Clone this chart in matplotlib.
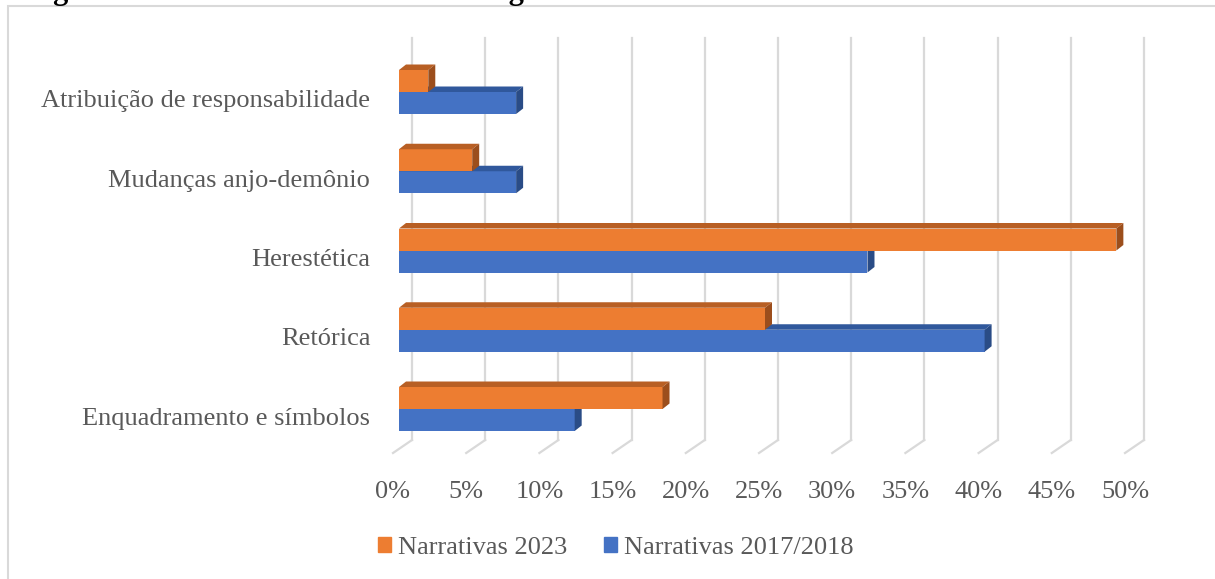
import numpy as np
import matplotlib.pyplot as plt
from matplotlib.patches import Polygon, Rectangle, Patch

# data (percent), bottom to top
categorias = ["Enquadramento e símbolos", "Retórica", "Herestética",
              "Mudanças anjo-demônio", "Atribuição de responsabilidade"]
narr_2023 = [18, 25, 49, 5, 2]
narr_2017 = [12, 40, 32, 8, 8]
ticks = [0, 5, 10, 15, 20, 25, 30, 35, 40, 45, 50]
tick_labels = [f"{t}%" for t in ticks]

laranja, laranja_topo, laranja_lado = "#ED7D31", "#B85F24", "#9C4E1C"
azul, azul_topo, azul_lado = "#4472C4", "#30589C", "#2A4C86"
cinza_txt = "#595959"
cinza_grid = "#D9D9D9"
serif = ["Liberation Serif", "DejaVu Serif"]

W, H = 1215, 579
fig = plt.figure(figsize=(W / 100, H / 100), dpi=100)

# pixel mapping: x px = 399 + 14.64*x ; y px (from top) = 409 - 79.25*i
sx, x0 = 14.64, 399
sy, y0 = 79.25, 409
L, R, T, B = 380, 1200, 30, 460
ax = fig.add_axes([L / W, 1 - B / H, (R - L) / W, (B - T) / H])
ax.set_xlim((L - x0) / sx, (R - x0) / sx)
ax.set_ylim((y0 - B) / sy, (y0 - T) / sy)
for s in ax.spines.values():
    s.set_visible(False)

# 3D wall gridlines + floor
back_dx = 13 / sx
front_dx = -6 / sx
g_top = (y0 - 38) / sy
g_bot = (y0 - 440) / sy
f_bot = (y0 - 453) / sy
for t in ticks:
    ax.plot([t + back_dx, t + back_dx], [g_bot, g_top], color=cinza_grid, lw=1.6, zorder=1)
    ax.plot([t + back_dx, t + front_dx], [g_bot, f_bot], color=cinza_grid, lw=1.6, zorder=1)

# bars with depth
h = 22 / sy
dx = 7 / sx
dy = 5.5 / sy
y = np.arange(len(categorias))


def bar3d(yc, vals, cf, ct, cs):
    ax.barh(yc, vals, height=h, left=0, color=cf, zorder=3)
    for yy, v in zip(yc, vals):
        top, bot = yy + h / 2, yy - h / 2
        ax.add_patch(Polygon([(0, top), (v, top), (v + dx, top + dy), (dx, top + dy)],
                             closed=True, color=ct, lw=0, zorder=3))
        ax.add_patch(Polygon([(v, bot), (v, top), (v + dx, top + dy), (v + dx, bot + dy)],
                             closed=True, color=cs, lw=0, zorder=3))


bar3d(y - h / 2, narr_2017, azul, azul_topo, azul_lado)
bar3d(y + h / 2, narr_2023, laranja, laranja_topo, laranja_lado)

ax.set_yticks(y - 7 / sy)
ax.set_yticklabels(categorias, fontfamily=serif, fontsize=19, color=cinza_txt)
ax.tick_params(axis="y", length=0, pad=7)
ax.set_xticks([t + front_dx for t in ticks])
ax.set_xticklabels(tick_labels, fontfamily=serif, fontsize=19, color=cinza_txt)
ax.tick_params(axis="x", length=0, pad=15)

# legend
handles = [Patch(color=laranja, label="Narrativas 2023"),
           Patch(color=azul, label="Narrativas 2017/2018")]
fig.legend(handles=handles, loc="center", bbox_to_anchor=(616 / W, 1 - 548 / H), ncol=2,
           frameon=False, prop={"family": serif, "size": 19}, labelcolor=cinza_txt,
           handlelength=0.5, handleheight=0.5, handletextpad=0.25, columnspacing=1.4)

# chart area border
fig.patches.append(Rectangle((7.5 / W, -0.1), 1.2, 1 - 6.5 / H + 0.1,
                             transform=fig.transFigure, fill=False, ec=cinza_grid, lw=1.5))

# caption above, cut off by the crop
fig.text(26 / W, 1 + 0.5 / H, "Figura 1 - Percentual relativo de categorias", va="baseline",
         fontfamily=serif, fontweight="bold", fontsize=22, color="black")

fig.savefig("out.png", dpi=100)
